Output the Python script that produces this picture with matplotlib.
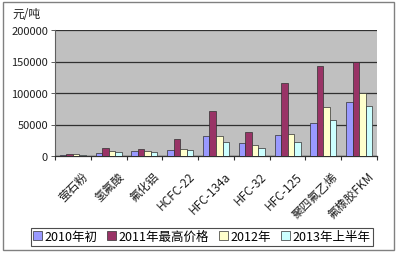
import matplotlib
matplotlib.use("Agg")
import matplotlib.pyplot as plt
import matplotlib.transforms as mtransforms
from matplotlib.patches import Rectangle
import numpy as np

plt.rcParams['font.family'] = ['Noto Sans CJK SC', 'DejaVu Sans']

categories = ["萤石粉", "氢氟酸", "氟化铝", "HCFC-22", "HFC-134a", "HFC-32",
              "HFC-125", "聚四氟乙烯", "氟橡胶FKM"]
series_names = ["2010年初", "2011年最高价格", "2012年", "2013年上半年"]
v2010 = [1500, 5500, 8600, 10000, 32500, 20000, 34000, 52000, 85000]
v2011 = [3500, 12500, 10500, 26500, 71000, 38000, 115500, 142500, 150000]
v2012 = [2500, 8600, 8600, 11700, 31000, 18000, 35000, 78000, 100000]
v2013 = [2000, 7000, 7000, 9500, 22000, 12500, 23000, 56500, 80000]
yticks = [0, 50000, 100000, 150000, 200000]

colors = ["#9999FF", "#993366", "#FFFFCC", "#CCFFFF"]
series = [v2010, v2011, v2012, v2013]

W, H = 399, 255
fig = plt.figure(figsize=(W / 100, H / 100), dpi=100)
fig.patch.set_facecolor("white")

# outer chart frame
fig.patches.append(Rectangle((3 / W, 1 - 251 / H), 391 / W, 248 / H,
                             transform=fig.transFigure, fill=False,
                             edgecolor="#808080", linewidth=1.0))

ax = fig.add_axes([55 / W, 1 - 157 / H, 322 / W, 126 / H])
ax.set_facecolor("#C0C0C0")

x = np.arange(len(categories))
bw = 0.182
for i, (vals, c) in enumerate(zip(series, colors)):
    ax.bar(x + (i - 1.5) * bw, vals, width=bw, color=c, edgecolor="#303030",
           linewidth=0.5, label=series_names[i], zorder=3)

ax.set_xlim(-0.5, len(categories) - 0.5)
ax.set_ylim(0, 200000)
ax.set_yticks(yticks)
ax.set_yticklabels([str(v) for v in yticks], fontsize=8, color="#202020")
ax.yaxis.grid(True, color="#303030", linewidth=0.9, zorder=1)
ax.tick_params(axis="y", length=3, width=0.6, pad=2, color="#404040")

ax.set_xticks(x)
ax.set_xticklabels([])
ax.set_xticks(np.arange(-0.5, len(categories)), minor=True)
ax.tick_params(axis="x", which="major", length=0)
ax.tick_params(axis="x", which="minor", length=3, width=0.8, color="#303030",
               direction="out")

# rotated category labels, right end sitting just below each group
label_tf = ax.get_xaxis_transform() + mtransforms.ScaledTranslation(
    13 / 100, -18 / 100, fig.dpi_scale_trans)
for xi, name in zip(x, categories):
    ax.text(xi, 0, name, transform=label_tf, rotation=45, ha="right",
            va="center", rotation_mode="anchor", fontsize=8.5,
            color="#202020", clip_on=False)

for s in ["top", "right"]:
    ax.spines[s].set_visible(False)
ax.spines["left"].set_color("#606060")
ax.spines["left"].set_linewidth(0.8)
ax.spines["bottom"].set_color("#303030")
ax.spines["bottom"].set_linewidth(0.9)

fig.text(12 / W, 1 - 14 / H, "元/吨", fontsize=8.5, ha="left", va="center",
         color="#202020")

leg = fig.legend(loc="center", bbox_to_anchor=(201.5 / W, 1 - 237.5 / H),
                 ncol=4, fontsize=9, frameon=True, fancybox=False,
                 handlelength=0.7, handleheight=0.7, handletextpad=0.2,
                 columnspacing=0.8, borderpad=0.2, borderaxespad=0)
leg.get_frame().set_edgecolor("#202020")
leg.get_frame().set_linewidth(0.8)

fig.savefig("out.png", dpi=100)
